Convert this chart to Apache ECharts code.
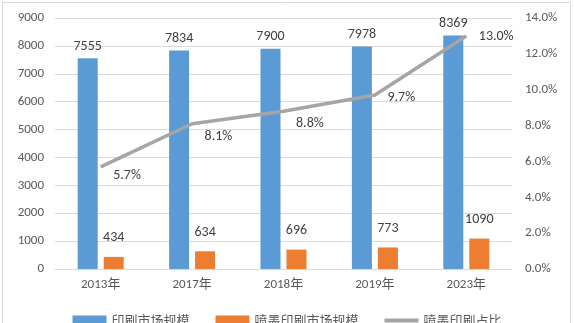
<!DOCTYPE html>
<html><head><meta charset="utf-8">
<script src="https://cdn.jsdelivr.net/npm/echarts@6/dist/echarts.min.js"></script>
<style>html,body{margin:0;padding:0;background:#fff}#c{width:574px;height:323px}</style>
</head><body><div id="c"></div>
<script>
const categories = ['2013年','2017年','2018年','2019年','2023年'];
const printMarket = [7555, 7834, 7900, 7978, 8369];
const inkjetMarket = [434, 634, 696, 773, 1090];
const inkjetShare = [5.7, 8.1, 8.8, 9.7, 13.0];
const seriesNames = ['印刷市场规模','喷墨印刷市场规模','喷墨印刷占比'];

const font = 'Calibri, "Liberation Sans", "Noto Sans CJK SC", sans-serif';
const shareLabelDy = [9, 13, 12, 2, 1];
const chart = echarts.init(document.getElementById('c'), null, {renderer:'canvas'});
chart.setOption({
  animation:false,
  backgroundColor:'#fff',
  textStyle:{fontFamily:font},
  graphic:[{type:'rect',shape:{x:2.5,y:2.5,width:568,height:340},style:{fill:'none',stroke:'#d9d9d9',lineWidth:1},silent:true}],
  grid:{left:55,right:62,top:18,bottom:54},
  legend:{
    bottom:-9, left:'center', itemGap:26, itemWidth:34, itemHeight:10,
    textStyle:{fontSize:13,color:'#595959',fontFamily:'"Noto Sans CJK SC", sans-serif'},
    data:[{name:seriesNames[0],icon:'rect'},{name:seriesNames[1],icon:'rect'},
          {name:seriesNames[2],icon:'path://M0,0H34V4H0Z',itemStyle:{color:'#A5A5A5',opacity:1,borderWidth:0}}]
  },
  xAxis:{type:'category',data:categories,
    axisLine:{lineStyle:{color:'#d9d9d9'}},axisTick:{show:false},
    axisLabel:{color:'#595959',fontSize:13,margin:9,fontFamily:font}},
  yAxis:[
    {type:'value',min:0,max:9000,interval:1000,
     axisLine:{show:false},axisTick:{show:false},
     splitLine:{lineStyle:{color:'#d9d9d9'}},
     axisLabel:{color:'#595959',fontSize:13,margin:11,formatter:v=>String(v)}},
    {type:'value',min:0,max:14,interval:2,
     axisLine:{show:false},axisTick:{show:false},splitLine:{show:false},
     axisLabel:{color:'#595959',fontSize:13,margin:13,formatter:v=>v.toFixed(1)+'%'}}
  ],
  series:[
    {name:seriesNames[0],type:'bar',data:printMarket,barWidth:20,barGap:'30%',
     itemStyle:{color:'#5B9BD5'},
     label:{show:true,position:'top',distance:5,color:'#404040',fontSize:14}},
    {name:seriesNames[1],type:'bar',data:inkjetMarket,barWidth:20,
     itemStyle:{color:'#ED7D31'},
     label:{show:true,position:'top',distance:12,color:'#404040',fontSize:14}},
    {name:seriesNames[2],type:'line',yAxisIndex:1,showSymbol:true,symbol:'circle',symbolSize:1,
     data:inkjetShare.map((v,i)=>({value:v,label:{offset:[0,shareLabelDy[i]]}})),
     lineStyle:{color:'#A5A5A5',width:3.5},itemStyle:{color:'rgba(0,0,0,0)',borderWidth:0},
     label:{show:true,position:'right',distance:12,color:'#404040',fontSize:14,formatter:p=>p.value.toFixed(1)+'%'}}
  ]
});
</script></body></html>
